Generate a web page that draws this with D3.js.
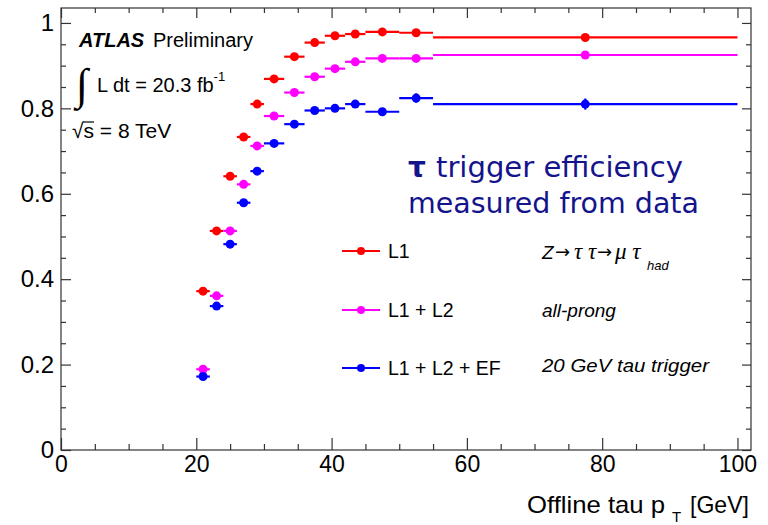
<!DOCTYPE html>
<html>
<head>
<meta charset="utf-8">
<script src="https://cdn.jsdelivr.net/npm/d3@7"></script>
<style>
  html, body { margin: 0; padding: 0; background: #fff; }
  svg { display: block; }
  text { font-family: "Liberation Sans", Arial, sans-serif; }
</style>
</head>
<body>
<svg id="chart" width="768" height="525"></svg>
<script>
// ---- data ----
const binLow  = [20, 22, 24, 26, 28, 30, 33, 36, 39, 42, 45, 50, 55];
const binHigh = [22, 24, 26, 28, 30, 33, 36, 39, 42, 45, 50, 55, 100];

const seriesNames = ["L1", "L1 + L2", "L1 + L2 + EF"];
const seriesColors = ["#ff0000", "#ff00ff", "#0000ff"];

const effL1     = [0.372, 0.513, 0.641, 0.733, 0.810, 0.869, 0.921, 0.954, 0.970, 0.974, 0.979, 0.977, 0.966];
const effL1L2   = [0.189, 0.361, 0.513, 0.622, 0.712, 0.782, 0.837, 0.874, 0.893, 0.909, 0.917, 0.917, 0.925];
const effL1L2EF = [0.172, 0.337, 0.482, 0.579, 0.653, 0.718, 0.763, 0.795, 0.800, 0.810, 0.792, 0.824, 0.810];

const errL1     = [0.006, 0.006, 0.005, 0.005, 0.005, 0.004, 0.004, 0.004, 0.004, 0.004, 0.004, 0.005, 0.006];
const errL1L2   = [0.006, 0.006, 0.005, 0.005, 0.005, 0.005, 0.005, 0.005, 0.005, 0.005, 0.005, 0.006, 0.007];
const errL1L2EF = [0.006, 0.006, 0.006, 0.006, 0.006, 0.006, 0.006, 0.006, 0.006, 0.006, 0.007, 0.011, 0.013];

const xMajorTicks = [0, 20, 40, 60, 80, 100];
const yMajorTicks = [0, 0.2, 0.4, 0.6, 0.8, 1];
const yTickLabels = ["0", "0.2", "0.4", "0.6", "0.8", "1"];

const series = [
  { name: seriesNames[0], color: seriesColors[0], vals: effL1,     errs: errL1 },
  { name: seriesNames[1], color: seriesColors[1], vals: effL1L2,   errs: errL1L2 },
  { name: seriesNames[2], color: seriesColors[2], vals: effL1L2EF, errs: errL1L2EF }
];

// ---- layout ----
const svg = d3.select("#chart");
const L = 61, R = 751, T = 8, B = 450;
const x = d3.scaleLinear().domain([0, 102]).range([L, R]);
const y = d3.scaleLinear().domain([0, 1.035]).range([B, T]);

const axisColor = "#333";
const xMinor = d3.range(0, 101, 5).filter(v => v % 20 !== 0);
const yMinor = d3.range(0, 1.0001, 0.05).map(v => +v.toFixed(2)).filter(v => Math.round(v * 100) % 20 !== 0);

function styleAxis(g) {
  g.select(".domain").remove();
  g.selectAll(".tick line").attr("stroke", axisColor).attr("stroke-width", 1.2);
  g.selectAll(".tick text").attr("fill", "#000").style("font-family", "Liberation Sans, Arial, sans-serif");
}

// bottom axis
svg.append("g").attr("transform", `translate(0,${B})`)
  .call(d3.axisBottom(x).tickValues(xMajorTicks).tickFormat(d3.format("d")).tickSizeInner(-12).tickSizeOuter(0).tickPadding(6))
  .call(styleAxis)
  .call(g => g.selectAll(".tick text").style("font-size", "23px"));
svg.append("g").attr("transform", `translate(0,${B})`)
  .call(d3.axisBottom(x).tickValues(xMinor).tickFormat("").tickSizeInner(-6).tickSizeOuter(0))
  .call(styleAxis);
// top axis
svg.append("g").attr("transform", `translate(0,${T})`)
  .call(d3.axisTop(x).tickValues(xMajorTicks).tickFormat("").tickSizeInner(-10).tickSizeOuter(0))
  .call(styleAxis);
svg.append("g").attr("transform", `translate(0,${T})`)
  .call(d3.axisTop(x).tickValues(xMinor).tickFormat("").tickSizeInner(-5).tickSizeOuter(0))
  .call(styleAxis);
// left axis
svg.append("g").attr("transform", `translate(${L},0)`)
  .call(d3.axisLeft(y).tickValues(yMajorTicks).tickFormat((d, i) => yTickLabels[i]).tickSizeInner(-10).tickSizeOuter(0).tickPadding(7))
  .call(styleAxis)
  .call(g => g.selectAll(".tick text").style("font-size", "24px"));
svg.append("g").attr("transform", `translate(${L},0)`)
  .call(d3.axisLeft(y).tickValues(yMinor).tickFormat("").tickSizeInner(-5).tickSizeOuter(0))
  .call(styleAxis);
// right axis
svg.append("g").attr("transform", `translate(${R},0)`)
  .call(d3.axisRight(y).tickValues(yMajorTicks).tickFormat("").tickSizeInner(-9).tickSizeOuter(0))
  .call(styleAxis);
svg.append("g").attr("transform", `translate(${R},0)`)
  .call(d3.axisRight(y).tickValues(yMinor).tickFormat("").tickSizeInner(-5).tickSizeOuter(0))
  .call(styleAxis);

// frame
svg.append("rect").attr("x", L).attr("y", T).attr("width", R - L).attr("height", B - T)
  .attr("fill", "none").attr("stroke", axisColor).attr("stroke-width", 1.2);

// ---- data points ----
const pts = svg.append("g");
series.forEach(s => {
  const g = pts.append("g");
  s.vals.forEach((v, i) => {
    const lo = binLow[i], hi = binHigh[i], c = (lo + hi) / 2, e = s.errs[i];
    g.append("line").attr("x1", x(lo)).attr("x2", x(hi)).attr("y1", y(v)).attr("y2", y(v))
      .attr("stroke", s.color).attr("stroke-width", 2.2);
    g.append("line").attr("x1", x(c)).attr("x2", x(c)).attr("y1", y(v - e)).attr("y2", y(v + e))
      .attr("stroke", s.color).attr("stroke-width", 2.2);
    g.append("circle").attr("cx", x(c)).attr("cy", y(v)).attr("r", 4.5).attr("fill", s.color);
  });
});

// ---- legend ----
const legY = [251, 310, 368];
series.forEach((s, i) => {
  const g = svg.append("g");
  g.append("line").attr("x1", 342).attr("x2", 380).attr("y1", legY[i]).attr("y2", legY[i])
    .attr("stroke", s.color).attr("stroke-width", 2);
  g.append("circle").attr("cx", 361).attr("cy", legY[i]).attr("r", 4).attr("fill", s.color);
  g.append("text").attr("x", 388).attr("y", legY[i] + 7).style("font-size", "19.5px").text(s.name);
});

// right-hand italic notes
const noteFont = "19px";
svg.append("text").attr("x", 542).attr("y", 259).style("font-size", noteFont).style("font-style", "italic").text("Z");
svg.append("text").attr("x", 555).attr("y", 258).style("font-family", "DejaVu Sans").style("font-size", "18px").text("→");
svg.append("text").attr("x", 574).attr("y", 259).style("font-family", "Liberation Serif").style("font-style", "italic").style("font-size", "23px").text("τ τ");
svg.append("text").attr("x", 597).attr("y", 258).style("font-family", "DejaVu Sans").style("font-size", "18px").text("→");
svg.append("text").attr("x", 615).attr("y", 259).style("font-family", "Liberation Serif").style("font-style", "italic").style("font-size", "23px").text("μ τ");
svg.append("text").attr("x", 647).attr("y", 270).style("font-size", "13px").style("font-style", "italic").text("had");

svg.append("text").attr("x", 542).attr("y", 317).style("font-size", noteFont).style("font-style", "italic").text("all-prong");
svg.append("text").attr("x", 542).attr("y", 372).style("font-size", noteFont).style("font-style", "italic")
  .attr("textLength", 167).attr("lengthAdjust", "spacingAndGlyphs").text("20 GeV tau trigger");

// ---- ATLAS labels ----
svg.append("text").attr("x", 79).attr("y", 47).style("font-size", "20px")
  .style("font-weight", "bold").style("font-style", "italic").text("ATLAS");
svg.append("text").attr("x", 153).attr("y", 47).style("font-size", "20px")
  .attr("textLength", 100).attr("lengthAdjust", "spacingAndGlyphs").text("Preliminary");

svg.append("text").attr("x", 76).attr("y", 99).style("font-family", "DejaVu Sans").style("font-size", "44px")
  .style("font-weight", "300").text("∫");
const lum = svg.append("text").attr("x", 97).attr("y", 92).style("font-size", "20px");
lum.append("tspan").text("L dt = 20.3 fb");
lum.append("tspan").attr("dy", -11).style("font-size", "13px").text("-1");

const sq = svg.append("text").attr("x", 72).attr("y", 138).style("font-size", "21px");
sq.append("tspan").text("√");
sq.append("tspan").text("s = 8 TeV");
svg.append("line").attr("x1", 83).attr("x2", 94).attr("y1", 122).attr("y2", 122).attr("stroke", "#000").attr("stroke-width", 1.2);

// ---- title ----
const titleColor = "#14148c";
svg.append("text").attr("x", 408).attr("y", 177).style("font-family", "DejaVu Sans")
  .style("font-size", "28px").style("font-weight", "bold").attr("fill", titleColor).text("τ");
svg.append("text").attr("x", 436).attr("y", 177).style("font-family", "DejaVu Sans")
  .style("font-size", "28px").attr("fill", titleColor)
  .attr("textLength", 247).attr("lengthAdjust", "spacingAndGlyphs").text("trigger efficiency");
svg.append("text").attr("x", 408).attr("y", 213).style("font-family", "DejaVu Sans")
  .style("font-size", "28px").attr("fill", titleColor)
  .attr("textLength", 291).attr("lengthAdjust", "spacingAndGlyphs").text("measured from data");

// ---- x axis title ----
svg.append("text").attr("x", 527).attr("y", 513).style("font-size", "24px")
  .attr("textLength", 138).attr("lengthAdjust", "spacingAndGlyphs").text("Offline tau p");
svg.append("text").attr("x", 672).attr("y", 522).style("font-size", "15px").text("T");
svg.append("text").attr("x", 749).attr("y", 513).attr("text-anchor", "end").style("font-size", "24px")
  .attr("textLength", 59).attr("lengthAdjust", "spacingAndGlyphs").text("[GeV]");
</script>
</body>
</html>
